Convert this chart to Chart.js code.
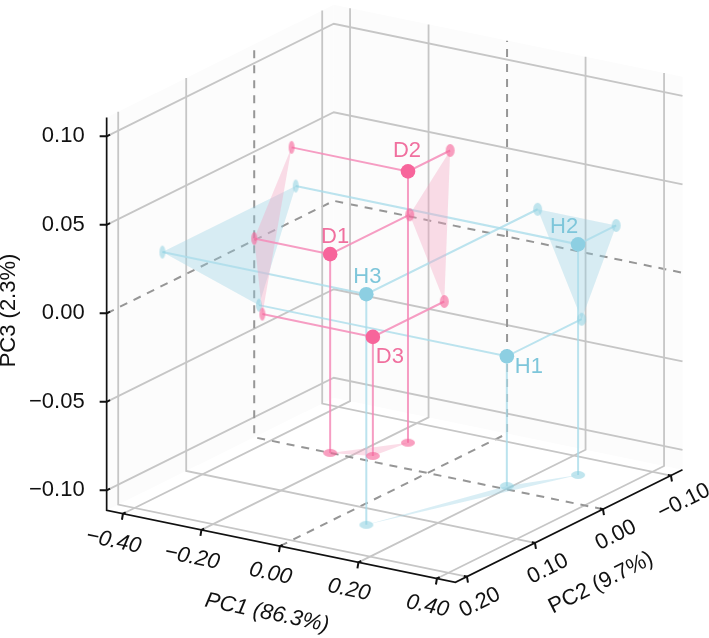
<!DOCTYPE html>
<html>
<head>
<meta charset="utf-8">
<title>PCA 3D</title>
<script src="https://cdn.jsdelivr.net/npm/chart.js@4/dist/chart.umd.js"></script>
<style>
  html, body { margin: 0; padding: 0; background: #fff; }
  canvas { display: block; }
</style>
</head>
<body>
<canvas id="pca" width="709" height="638"></canvas>
<script>
// valeurs
const diseaseNames = ["D1", "D2", "D3"];
const diseasePC1 = [-0.248, -0.145, -0.160];
const diseasePC2 = [0.000, -0.055, -0.012];
const diseasePC3 = [0.001, 0.042, -0.044];

const healthyNames = ["H1", "H2", "H3"];
const healthyPC1 = [0.190, 0.278, 0.078];
const healthyPC2 = [-0.007, -0.061, 0.135];
const healthyPC3 = [-0.038, 0.019, 0.019];

const pc1Ticks = [-0.4, -0.2, 0, 0.2, 0.4];
const pc2Ticks = [0.2, 0.1, 0, -0.1];
const pc3Ticks = [0.1, 0.05, 0, -0.05, -0.1];

const PC1_MIN = -0.4415, PC1_MAX = 0.447;
const PC2_MIN = -0.117, PC2_MAX = 0.217;
const PC3_MIN = -0.1113, PC3_MAX = 0.1107;

const PINK = "#f7659b", PINK_LINE = "rgba(244,140,184,0.85)", PINK_FILL = "rgba(245,160,190,0.36)", PINK_WALL = "rgba(246,100,154,0.62)";
const BLUE = "#8dcfe2", BLUE_LINE = "rgba(170,220,234,0.8)", BLUE_FILL = "rgba(150,208,226,0.36)", BLUE_WALL = "rgba(140,207,224,0.55)";
const GRID = "#c6c6c6", DASH = "#969696", FONT = "'Liberation Sans', Arial, sans-serif";

// projection orthographique de la vue 3D vers le plan de la figure
function project(a, b, c) {
  return {
    x: 427.5 + 392.5 * a - 680 * b,
    y: 276 + 81 * a + 337 * b - 1770 * c
  };
}

function ellipseMarker(w, h, color) {
  const cv = document.createElement("canvas");
  cv.width = w + 2;
  cv.height = h + 2;
  const c = cv.getContext("2d");
  c.fillStyle = color;
  c.beginPath();
  c.ellipse(cv.width / 2, cv.height / 2, w / 2, h / 2, 0, 0, Math.PI * 2);
  c.fill();
  return cv;
}

const datasets = [];

function addLine(points, color, width, dash) {
  datasets.push({
    data: points, showLine: true, borderColor: color, borderWidth: width,
    borderDash: dash || [], pointRadius: 0, fill: false, clip: false, tension: 0
  });
}

function addPolygon(points, color) {
  datasets.push({
    data: points.concat([points[0]]), showLine: true, borderWidth: 0, borderColor: "rgba(0,0,0,0)",
    backgroundColor: color, pointRadius: 0, fill: "shape", clip: false, tension: 0
  });
}

// panneaux
addPolygon([project(PC1_MIN, PC2_MAX, PC3_MIN), project(PC1_MIN, PC2_MIN, PC3_MIN), project(PC1_MIN, PC2_MIN, PC3_MAX), project(PC1_MIN, PC2_MAX, PC3_MAX)], "#fcfcfc");
addPolygon([project(PC1_MIN, PC2_MIN, PC3_MIN), project(PC1_MAX, PC2_MIN, PC3_MIN), project(PC1_MAX, PC2_MIN, PC3_MAX), project(PC1_MIN, PC2_MIN, PC3_MAX)], "#fcfcfc");

// grille
pc3Ticks.forEach(z => {
  const pts = [project(PC1_MIN, PC2_MAX, z), project(PC1_MIN, PC2_MIN, z), project(PC1_MAX, PC2_MIN, z)];
  if (z === 0) addLine(pts, DASH, 2, [8, 7]);
  else addLine(pts, GRID, 1.8);
});
pc1Ticks.forEach(x => {
  const pts = [project(x, PC2_MAX, PC3_MIN), project(x, PC2_MIN, PC3_MIN), project(x, PC2_MIN, PC3_MAX)];
  if (x === 0) addLine(pts, DASH, 2, [8, 7]);
  else addLine(pts, GRID, 1.8);
});
pc2Ticks.forEach(y => {
  const pts = [project(PC1_MAX, y, PC3_MIN), project(PC1_MIN, y, PC3_MIN), project(PC1_MIN, y, PC3_MAX)];
  if (y === 0) addLine(pts, DASH, 2, [8, 7]);
  else addLine(pts, GRID, 1.8);
});

// axes
addLine([project(PC1_MIN, PC2_MAX, PC3_MAX), project(PC1_MIN, PC2_MAX, PC3_MIN), project(PC1_MAX, PC2_MAX, PC3_MIN), project(PC1_MAX, PC2_MIN, PC3_MIN)], "#111", 1.7);
pc3Ticks.forEach(z => {
  const p = project(PC1_MIN, PC2_MAX, z);
  addLine([{ x: p.x - 7, y: p.y }, p, project(PC1_MIN, PC2_MAX - 0.005, z)], "#111", 2);
});
pc1Ticks.forEach(x => {
  const p = project(x, PC2_MAX, PC3_MIN);
  addLine([{ x: p.x - 1, y: p.y + 6 }, p, project(x, PC2_MAX - 0.004, PC3_MIN)], "#111", 2);
});
pc2Ticks.forEach(y => {
  const p = project(PC1_MAX, y, PC3_MIN);
  addLine([{ x: p.x + 1, y: p.y + 6 }, p, project(PC1_MAX - 0.008, y, PC3_MIN)], "#111", 2);
});

// un groupe : ombres sur les parois, traits de rappel, points
function addGroup(pc1, pc2, pc3, color, line, fillColor, wall) {
  const leftWall = pc1.map((_, i) => project(PC1_MIN, pc2[i], pc3[i]));
  const backWall = pc1.map((_, i) => project(pc1[i], PC2_MIN, pc3[i]));
  const floor = pc1.map((_, i) => project(pc1[i], pc2[i], PC3_MIN));
  const centers = pc1.map((_, i) => project(pc1[i], pc2[i], pc3[i]));

  addPolygon(leftWall, fillColor);
  addPolygon(backWall, fillColor);
  addPolygon(floor, fillColor);

  centers.forEach((c, i) => {
    addLine([leftWall[i], c, backWall[i]], line, 2);
    addLine([c, floor[i]], line, 2);
  });

  [[leftWall, 6, 13], [backWall, 9, 13], [floor, 14, 8]].forEach(([pts, w, h]) => {
    datasets.push({
      data: pts, showLine: false, clip: false,
      pointStyle: ellipseMarker(w, h, wall), pointRadius: 6
    });
  });
  datasets.push({
    data: centers, showLine: false, clip: false,
    pointStyle: "circle", pointRadius: 7.3, pointBackgroundColor: color, pointBorderWidth: 0
  });
}

addGroup(healthyPC1, healthyPC2, healthyPC3, BLUE, BLUE_LINE, BLUE_FILL, BLUE_WALL);
addGroup(diseasePC1, diseasePC2, diseasePC3, PINK, PINK_LINE, PINK_FILL, PINK_WALL);

// Chart.js dessine le dernier dataset en premier
datasets.reverse();

function putText(ctx, text, x, y, angle, font, color) {
  ctx.save();
  ctx.translate(x, y);
  ctx.rotate(angle * Math.PI / 180);
  ctx.font = font;
  ctx.fillStyle = color;
  ctx.textAlign = "center";
  ctx.textBaseline = "middle";
  ctx.fillText(text, 0, 0);
  ctx.restore();
}

function tickLabel(v) {
  return (v < 0 ? "\u2212" : "") + Math.abs(v).toFixed(2);
}

const textPlugin = {
  id: "textPlugin",
  afterDraw(chart) {
    const ctx = chart.ctx;
    const upright = `22px ${FONT}`;
    const slanted = `italic 22px ${FONT}`;

    pc3Ticks.forEach(z => {
      const p = project(PC1_MIN, PC2_MAX, z);
      ctx.save();
      ctx.font = upright;
      ctx.fillStyle = "#111";
      ctx.textAlign = "right";
      ctx.textBaseline = "middle";
      ctx.fillText(tickLabel(z), p.x - 22, p.y);
      ctx.restore();
    });
    pc1Ticks.forEach(x => {
      const p = project(x, PC2_MAX, PC3_MIN);
      putText(ctx, tickLabel(x), p.x - 9.5, p.y + 27.5, 11.7, slanted, "#111");
    });
    pc2Ticks.forEach(y => {
      const p = project(PC1_MAX, y, PC3_MIN);
      putText(ctx, tickLabel(y), p.x + 13, p.y + 26, -26.5, upright, "#111");
    });

    putText(ctx, "PC1 (86.3%)", 267, 613, 11.7, slanted, "#111");
    putText(ctx, "PC2 (9.7%)", 601, 583, -26.5, upright, "#111");
    putText(ctx, "PC3 (2.3%)", 9, 310.5, -90, upright, "#111");

    const dOffsets = [[5, -17], [-1, -20], [17, 20]];
    const hOffsets = [[22, 11], [-14, -17], [1, -17]];
    diseaseNames.forEach((n, i) => {
      const p = project(diseasePC1[i], diseasePC2[i], diseasePC3[i]);
      putText(ctx, n, p.x + dOffsets[i][0], p.y + dOffsets[i][1], 0, upright, "#f0709f");
    });
    healthyNames.forEach((n, i) => {
      const p = project(healthyPC1[i], healthyPC2[i], healthyPC3[i]);
      putText(ctx, n, p.x + hOffsets[i][0], p.y + hOffsets[i][1], 0, upright, "#7ec6da");
    });
  }
};

new Chart(document.getElementById("pca").getContext("2d"), {
  type: "scatter",
  data: { datasets },
  options: {
    responsive: false,
    animation: false,
    layout: { padding: 0, autoPadding: false },
    plugins: { legend: { display: false }, tooltip: { enabled: false } },
    scales: {
      x: { type: "linear", min: 0, max: 709, display: false },
      y: { type: "linear", min: 0, max: 638, reverse: true, display: false }
    }
  },
  plugins: [textPlugin]
});
</script>
</body>
</html>
